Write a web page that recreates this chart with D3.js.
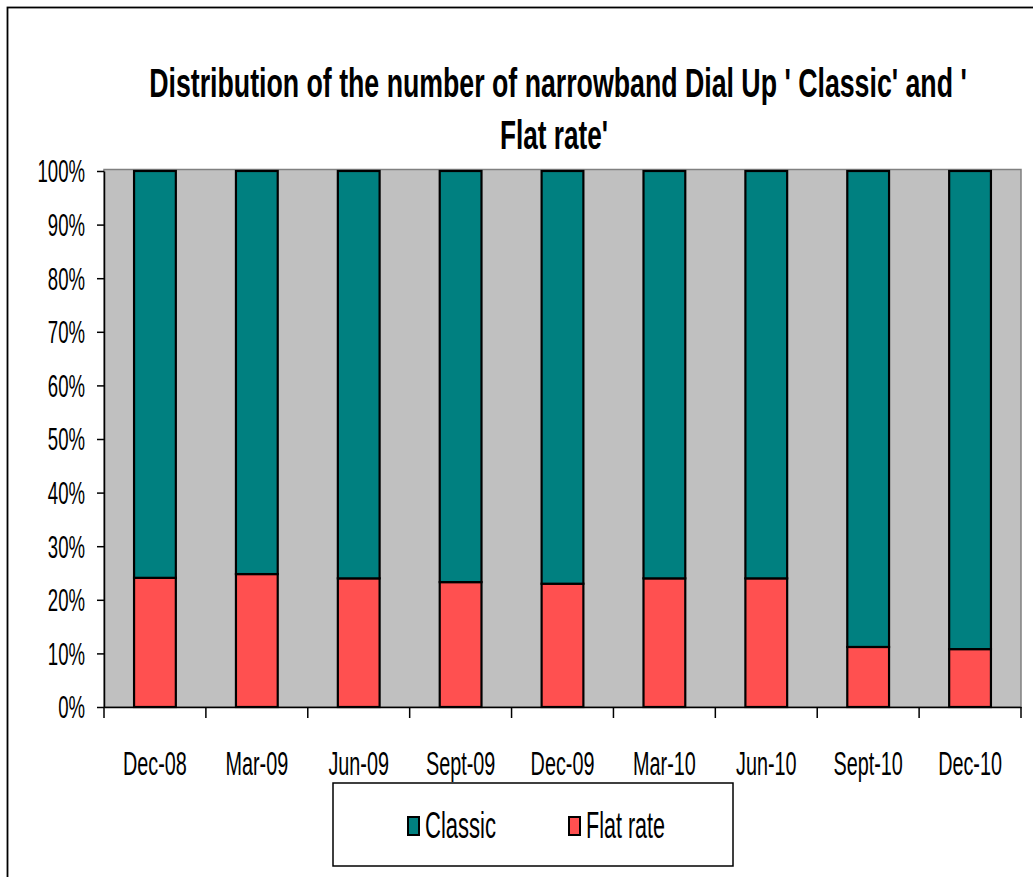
<!DOCTYPE html>
<html>
<head>
<meta charset="utf-8">
<script src="https://cdn.jsdelivr.net/npm/d3@7"></script>
<style>
  html, body { margin: 0; padding: 0; background: #fff; }
  svg { display: block; }
  text { font-family: "Liberation Sans", Arial, sans-serif; fill: #000; }
</style>
</head>
<body>
<script>
const categories = ["Dec-08","Mar-09","Jun-09","Sept-09","Dec-09","Mar-10","Jun-10","Sept-10","Dec-10"];
const flatRate = [24.1, 24.8, 24.0, 23.3, 23.0, 24.0, 24.0, 11.2, 10.8];
const classic = flatRate.map(v => +(100 - v).toFixed(1));
const seriesNames = ["Classic", "Flat rate"];
const seriesColors = ["#008080", "#FF5050"];
const yTicks = [0, 10, 20, 30, 40, 50, 60, 70, 80, 90, 100];
const titleLines = ["Distribution of the number of narrowband Dial Up ' Classic' and '", "Flat rate'"];

const W = 1033, H = 877;
const svg = d3.select("body").append("svg").attr("width", W).attr("height", H);

// outer frame
svg.append("rect").attr("x", 7.5).attr("y", 7.5).attr("width", W + 20).attr("height", H + 20)
  .attr("fill", "#fff").attr("stroke", "#000").attr("stroke-width", 1.8);

const plot = { left: 104, right: 1021, top: 171, bottom: 707 };

const x = d3.scaleBand().domain(categories).range([plot.left, plot.right])
  .paddingInner(0.59).paddingOuter(0.295);
const y = d3.scaleLinear().domain([0, 100]).range([plot.bottom, plot.top]);

// plot area
svg.append("rect").attr("x", plot.left).attr("y", plot.top - 1.5)
  .attr("width", plot.right - plot.left).attr("height", plot.bottom - plot.top + 1.5)
  .attr("fill", "#C0C0C0").attr("stroke", "#808080").attr("stroke-width", 1.5);

// stacked data
const rows = categories.map((c, i) => ({ cat: c, "Flat rate": flatRate[i], "Classic": classic[i] }));
const stacked = d3.stack().keys(["Flat rate", "Classic"])(rows);
const color = d3.scaleOrdinal().domain(seriesNames).range(seriesColors);

svg.append("g").selectAll("g").data(stacked).join("g")
  .attr("fill", d => color(d.key))
  .selectAll("rect").data(d => d).join("rect")
  .attr("x", d => x(d.data.cat))
  .attr("width", x.bandwidth())
  .attr("y", d => y(d[1]))
  .attr("height", d => y(d[0]) - y(d[1]))
  .attr("stroke", "#000").attr("stroke-width", 2.2);

// y axis
const sx = 0.6;
const yAxis = svg.append("g").attr("transform", `translate(${plot.left},0)`)
  .call(d3.axisLeft(y).tickValues(yTicks).tickFormat(d => d + "%").tickSize(7).tickSizeOuter(0));
yAxis.select(".domain").attr("stroke", "#000").attr("stroke-width", 1.5);
yAxis.selectAll(".tick line").attr("stroke", "#000").attr("stroke-width", 1.5);
yAxis.selectAll(".tick text")
  .attr("font-size", 31)
  .attr("x", -19 / sx)
  .attr("dy", "0.35em")
  .attr("transform", `scale(${sx},1)`);

// x axis
const xAxis = svg.append("g").attr("transform", `translate(0,${plot.bottom})`)
  .call(d3.axisBottom(x).tickSize(0).tickSizeOuter(0).tickPadding(0));
xAxis.select(".domain").attr("stroke", "#000").attr("stroke-width", 1.5);
const sxl = 0.6;
xAxis.selectAll(".tick text")
  .attr("font-size", 33)
  .attr("dy", 0)
  .attr("y", 68)
  .attr("transform", `scale(${sxl},1)`)
  .attr("x", 0);
// boundary ticks between categories
const boundaryX = [plot.left].concat(categories.map(c => x(c) + x.bandwidth() + (x.step() - x.bandwidth()) / 2));
xAxis.append("g").selectAll("line").data(boundaryX).join("line")
  .attr("x1", d => d).attr("x2", d => d).attr("y1", 0).attr("y2", 11)
  .attr("stroke", "#000").attr("stroke-width", 1.5);

// title (horizontally condensed via scale so it fits the target widths)
const titleSpec = [
  { text: titleLines[0], cx: 558, cy: 97, w: 818 },
  { text: titleLines[1], cx: 554, cy: 149, w: 108 }
];
titleSpec.forEach(t => {
  const g = svg.append("g").attr("transform", `translate(${t.cx},${t.cy})`);
  const el = g.append("text").attr("x", 0).attr("y", 0).attr("text-anchor", "middle")
    .attr("font-weight", "bold").attr("font-size", 40).text(t.text);
  const natural = el.node().getComputedTextLength();
  g.attr("transform", `translate(${t.cx},${t.cy}) scale(${t.w / natural},1)`);
});

// legend
const lg = svg.append("g");
lg.append("rect").attr("x", 333).attr("y", 783).attr("width", 400).attr("height", 83)
  .attr("fill", "#fff").attr("stroke", "#000").attr("stroke-width", 1.5);
const legendItems = [
  { name: "Classic", sw: 408, tx: 425, len: 71 },
  { name: "Flat rate", sw: 569, tx: 586, len: 79 }
];
legendItems.forEach(it => {
  lg.append("rect").attr("x", it.sw).attr("y", 817).attr("width", 11).attr("height", 18)
    .attr("fill", color(it.name)).attr("stroke", "#000").attr("stroke-width", 2);
  lg.append("text").attr("x", it.tx).attr("y", 838).attr("font-size", 36)
    .attr("textLength", it.len).attr("lengthAdjust", "spacingAndGlyphs").text(it.name);
});
</script>
</body>
</html>
